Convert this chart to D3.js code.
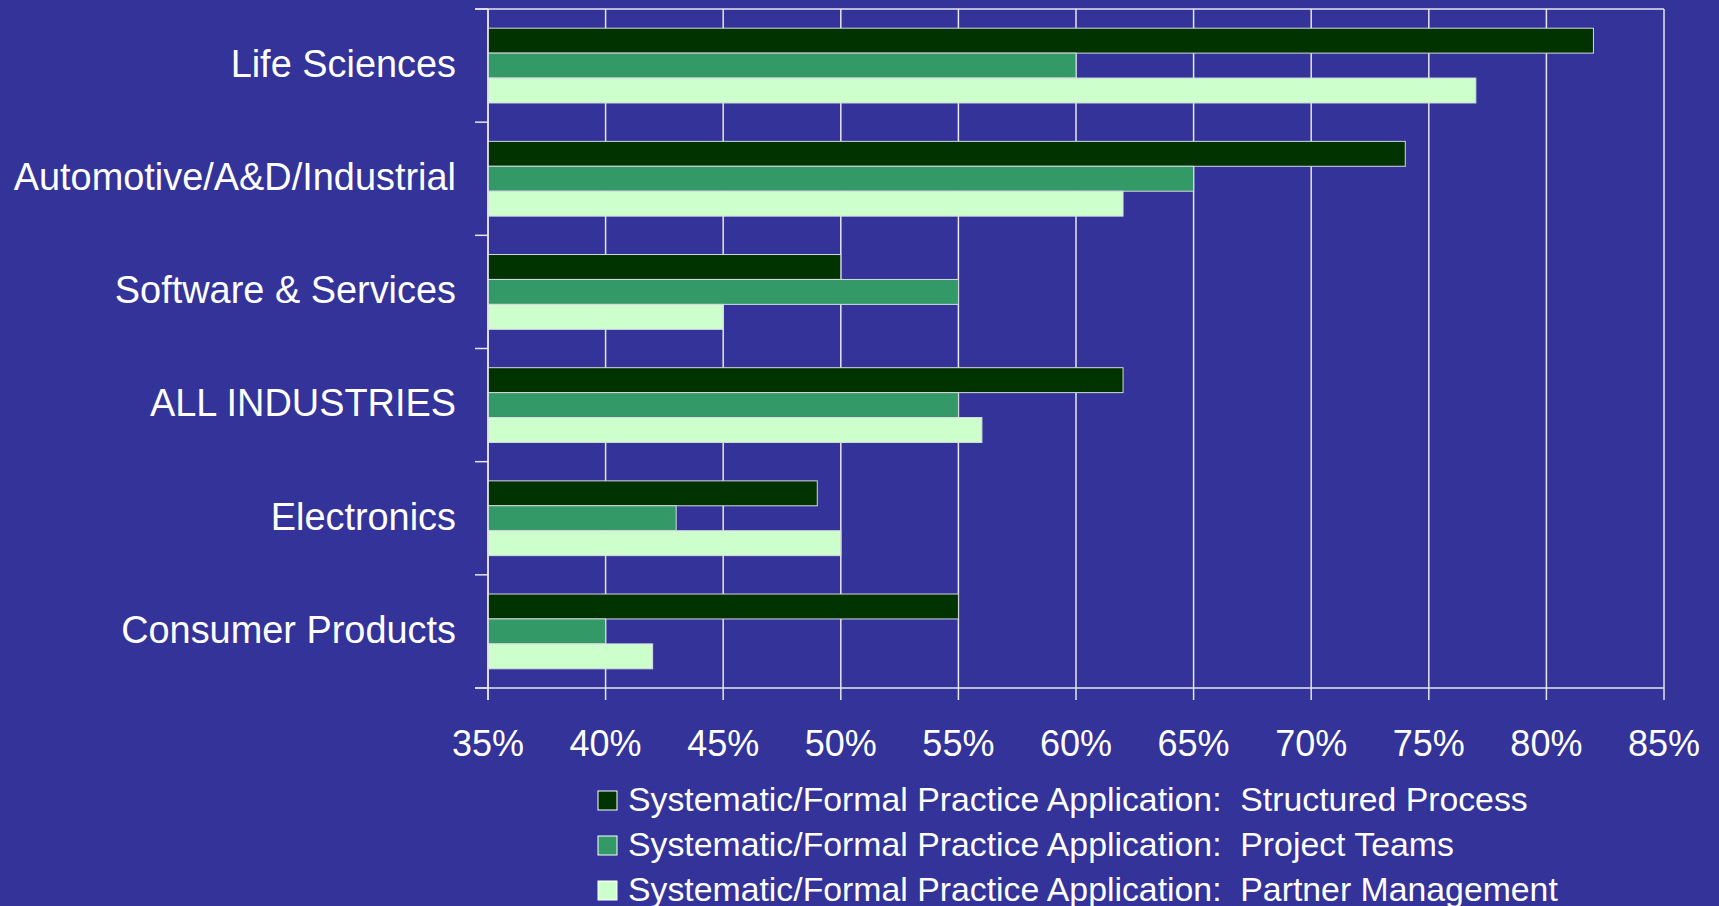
<!DOCTYPE html>
<html>
<head>
<meta charset="utf-8">
<script src="https://cdn.jsdelivr.net/npm/d3@7"></script>
<style>
  html, body { margin: 0; padding: 0; background: #333399; }
  svg { display: block; }
  text { font-family: "Liberation Sans", Arial, sans-serif; fill: #ffffff; }
</style>
</head>
<body>
<svg id="chart" width="1719" height="906"></svg>
<script>
const categories = ["Life Sciences", "Automotive/A&D/Industrial", "Software & Services", "ALL INDUSTRIES", "Electronics", "Consumer Products"];
const seriesNames = [
  "Systematic/Formal Practice Application:  Structured Process",
  "Systematic/Formal Practice Application:  Project Teams",
  "Systematic/Formal Practice Application:  Partner Management"
];
const structuredProcess = [82, 74, 50, 62, 49, 55];
const projectTeams      = [60, 65, 55, 55, 43, 40];
const partnerManagement = [77, 62, 45, 56, 50, 42];
const xTicks = [35, 40, 45, 50, 55, 60, 65, 70, 75, 80, 85];
const seriesColors = ["#003300", "#339966", "#CCFFCC"];

(function () {
const seriesValues = [structuredProcess, projectTeams, partnerManagement];

const svg = d3.select("#chart");
const pLeft = 488, pRight = 1664, pTop = 9, pBottom = 688;

const x = d3.scaleLinear().domain([35, 85]).range([pLeft, pRight]);
const y = d3.scaleBand().domain(categories).range([pTop, pBottom]).padding(0);
const yInner = d3.scaleBand().domain(d3.range(3)).range([0, y.bandwidth()])
  .paddingInner(0).paddingOuter(0.77);

const gridColor = "#e6e6ee";

// vertical gridlines + bottom ticks
svg.append("g").selectAll("line").data(xTicks).join("line")
  .attr("x1", d => x(d)).attr("x2", d => x(d))
  .attr("y1", pTop).attr("y2", pBottom + 12)
  .attr("stroke", gridColor).attr("stroke-width", 1.5);

// top border line
svg.append("line").attr("x1", pLeft - 13).attr("x2", pRight)
  .attr("y1", pTop).attr("y2", pTop)
  .attr("stroke", gridColor).attr("stroke-width", 1.5);

// bars
const groups = svg.append("g").selectAll("g").data(categories).join("g")
  .attr("transform", d => `translate(0,${y(d)})`);
groups.selectAll("rect").data((c, ci) => seriesValues.map((s, si) => ({si, v: s[ci]})))
  .join("rect")
  .attr("x", x(35))
  .attr("y", d => yInner(d.si))
  .attr("width", d => x(d.v) - x(35))
  .attr("height", yInner.bandwidth())
  .attr("fill", d => seriesColors[d.si])
  .attr("stroke", "#d8d8e0").attr("stroke-width", 1);

// left axis line and category ticks
svg.append("line").attr("x1", pLeft).attr("x2", pLeft)
  .attr("y1", pTop).attr("y2", pBottom + 12)
  .attr("stroke", gridColor).attr("stroke-width", 1.5);
const boundaries = categories.map(c => y(c)).concat([pBottom]);
svg.append("g").selectAll("line").data(boundaries).join("line")
  .attr("x1", pLeft - 13).attr("x2", pLeft)
  .attr("y1", d => d).attr("y2", d => d)
  .attr("stroke", gridColor).attr("stroke-width", 1.5);

// bottom axis line
svg.append("line").attr("x1", pLeft - 13).attr("x2", pRight)
  .attr("y1", pBottom).attr("y2", pBottom)
  .attr("stroke", gridColor).attr("stroke-width", 1.5);

// category labels
svg.append("g").selectAll("text").data(categories).join("text")
  .attr("x", pLeft - 32)
  .attr("y", d => y(d) + y.bandwidth() / 2 + 11.4)
  .attr("text-anchor", "end")
  .style("font-size", "37.9px")
  .text(d => d);

// x tick labels
svg.append("g").selectAll("text").data(xTicks).join("text")
  .attr("x", d => x(d))
  .attr("y", pBottom + 68)
  .attr("text-anchor", "middle")
  .style("font-size", "36px")
  .text(d => d + "%");

// legend
const legend = svg.append("g").selectAll("g").data(seriesNames).join("g")
  .attr("transform", (d, i) => `translate(598,${791 + i * 45})`);
legend.append("rect")
  .attr("width", 19).attr("height", 19)
  .attr("fill", (d, i) => seriesColors[i])
  .attr("stroke", "#ffffff").attr("stroke-width", 1);
legend.append("text")
  .attr("x", 30).attr("y", 20)
  .attr("xml:space", "preserve")
  .style("white-space", "pre")
  .style("font-size", "33.8px")
  .text(d => d);
})();
</script>
</body>
</html>
